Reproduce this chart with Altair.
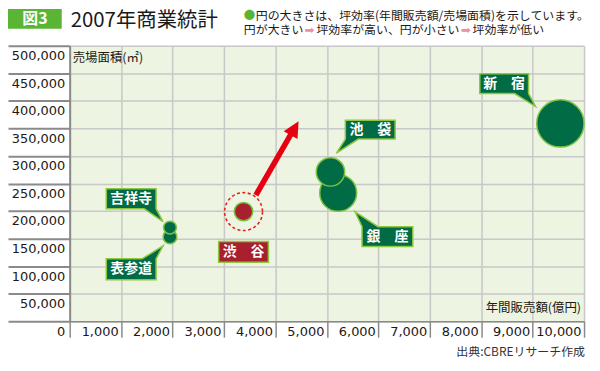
import altair as alt
import pandas as pd

# ---------------- data ----------------
names = ["表参道", "吉祥寺", "渋谷", "銀座", "池袋", "新宿"]
label_text = ["表参道", "吉祥寺", "渋　谷", "銀　座", "池　袋", "新　宿"]
sales = [1950, 1950, 3380, 5220, 5070, 9540]                 # 年間販売額(億円)
floor_area = [153000, 170000, 199000, 233000, 271000, 359000]  # 売場面積(㎡)
efficiency = [0.29, 0.27, 0.39, 0.78, 0.60, 1.00]             # 坪効率 (relative, Shinjuku = 1)

arrow_x = [3620, 4314]
arrow_y = [229000, 341200]
arrow_tip_x = [4450]
arrow_tip_y = [362800]

x_ticks = list(range(0, 10001, 1000))
y_ticks = list(range(0, 500001, 50000))

# ---------------- layout / style (pixels, relative to bubble) ----------------
CALLOUT = {
    "表参道": ("M-64,22 L-28,22 L-7,9 L-14,22 L-14,43 L-64,43 Z", -39, 32.5),
    "吉祥寺": ("M-64,-39 L-14,-39 L-14,-19 L-7,-6 L-26,-19 L-64,-19 Z", -39, -29),
    "渋谷": ("M-25,30 L25,30 L25,51 L-25,51 Z", 0, 40.5),
    "銀座": ("M24,34 L17,19 L40,34 L75,34 L75,54 L24,54 Z", 49.5, 44),
    "池袋": ("M15,-52 L65,-52 L65,-33 L28,-33 L6,-19 L15,-33 Z", 40, -42.5),
    "新宿": ("M-81,-50 L-32,-50 L-32,-30 L-25,-17 L-46,-30 L-81,-30 Z", -56.5, -40),
}

GREEN = "#006b45"
RED = "#a8202e"
LIGHT = "#7dc242"
CJK = "Noto Sans CJK JP"

df = pd.DataFrame({
    "name": names,
    "label": label_text,
    "sales": sales,
    "area": floor_area,
    "eff": efficiency,
    "draw": list(range(len(names))),
})
df["path"] = [CALLOUT[n][0] for n in names]

xs = alt.Scale(domain=[0, 10000], nice=False, zero=False)
ys = alt.Scale(domain=[0, 500000], nice=False, zero=False)

xaxis = alt.Axis(
    values=x_ticks, format=",d", title=None,
    labelExpr="datum.value == 0 ? '' : datum.label",
    labelAlign="right", labelOffset=-3, labelPadding=-12, labelBaseline="top",
    labelFont="DejaVu Sans", labelFontSize=13, labelColor="#231815",
    tickSize=16, tickColor="#8a8a8a", tickWidth=1.5,
    domainColor="#8a8a8a", domainWidth=1.5,
    grid=True, gridColor="#c8c8c8", gridWidth=1.5,
)
yaxis = alt.Axis(
    values=y_ticks, format=",d", title=None,
    labelAlign="right", labelBaseline="middle", labelOffset=10, labelPadding=-57,
    labelFont="DejaVu Sans", labelFontSize=13, labelColor="#231815",
    tickSize=62, tickColor="#8a8a8a", tickWidth=2,
    domainColor="#8a8a8a", domainWidth=2,
    grid=True, gridColor="#c8c8c8", gridWidth=1.5,
)

X = alt.X("sales:Q", scale=xs, axis=xaxis)
Y = alt.Y("area:Q", scale=ys, axis=yaxis)

base = alt.Chart(df)
is_shibuya = alt.datum.name == "渋谷"

ring = base.transform_filter(is_shibuya).mark_point(
    shape="circle", size=1452, filled=False, stroke="#e3241b",
    strokeWidth=1.6, strokeDash=[3, 2.5], opacity=1,
).encode(x=X, y=Y)

arrow_df = pd.DataFrame({"sales": arrow_x, "area": arrow_y})
arrow_shaft = alt.Chart(arrow_df).mark_line(
    color="#e60012", strokeWidth=5.5, strokeCap="butt"
).encode(x=X, y=Y)

tip_df = pd.DataFrame({"sales": arrow_tip_x, "area": arrow_tip_y})
arrow_head = alt.Chart(tip_df).mark_point(
    shape="M0,0 L-8,16 L8,16 Z", size=4, angle=30, filled=True,
    fill="#e60012", opacity=1, strokeWidth=0,
).encode(x=X, y=Y)

bubbles = base.mark_circle(opacity=1, stroke=LIGHT, strokeWidth=1.5).encode(
    x=X, y=Y,
    size=alt.Size("eff:Q", scale=alt.Scale(type="pow", exponent=2, domain=[0, 1], range=[0, 2260]), legend=None),
    color=alt.condition(is_shibuya, alt.value(RED), alt.value(GREEN)),
    order=alt.Order("draw:Q"),
)

callouts = base.mark_point(
    filled=True, size=4, opacity=1, stroke="#8dc63f", strokeWidth=1.5, strokeOpacity=1,
).encode(
    x=X, y=Y,
    shape=alt.Shape("path:N", scale=None, legend=None),
    fill=alt.condition(is_shibuya, alt.value(RED), alt.value(GREEN)),
)

label_layers = []
for n in names:
    _, dx, dy = CALLOUT[n]
    label_layers.append(
        base.transform_filter(alt.datum.name == n).mark_text(
            dx=dx, dy=dy, font=CJK, fontSize=14, fontWeight="bold", color="white",
            align="center", baseline="middle",
        ).encode(x=X, y=Y, text="label:N")
    )

dummy = pd.DataFrame({"k": [0]})


def txt(text, x, y, size, color="#231815", align="left", weight="normal", font=CJK):
    return alt.Chart(pd.DataFrame({"t": [text]})).mark_text(
        font=font, fontSize=size, color=color, align=align, baseline="middle", fontWeight=weight,
    ).encode(x=alt.value(x), y=alt.value(y), text="t:N")


fig_box = alt.Chart(dummy).mark_rect(color="#5ab534").encode(
    x=alt.value(-62), x2=alt.value(-8), y=alt.value(-37), y2=alt.value(-17)
)

texts = [
    txt("図3", -35, -27, 16, color="white", align="center", weight="bold"),
    txt("2007年商業統計", 1, -25, 20.5, color="#1a1a1a"),
    txt("●", 175, -30, 11.5, color="#5ab534"),
    txt("円の大きさは、坪効率(年間販売額/売場面積)を示しています。", 187, -30, 12),
    txt("円が大きい", 175, -16, 12),
    txt("➡", 236, -16, 12, color="#ee8fa5", font="DejaVu Sans"),
    txt("坪効率が高い、円が小さい", 248, -16, 12),
    txt("➡", 393, -16, 12, color="#ee8fa5", font="DejaVu Sans"),
    txt("坪効率が低い", 405, -16, 12),
    txt("売場面積(㎡)", 3, 12, 12.5),
    txt("年間販売額(億円)", 514, 264, 12.5, align="right"),
    txt("出典:CBREリサーチ作成", 518, 308, 12, color="#333333", align="right"),
]

chart = alt.layer(
    ring, arrow_shaft, arrow_head, bubbles, callouts, *label_layers, fig_box, *texts
).properties(
    width=517, height=277,
    autosize=alt.AutoSizeParams(type="none"),
    padding={"left": 62, "top": 37, "right": 8, "bottom": 40},
).configure(background="white").configure_view(fill="#edf4e1", stroke=None)

chart.save("out.html", embed_options={"renderer": "svg", "actions": False})
